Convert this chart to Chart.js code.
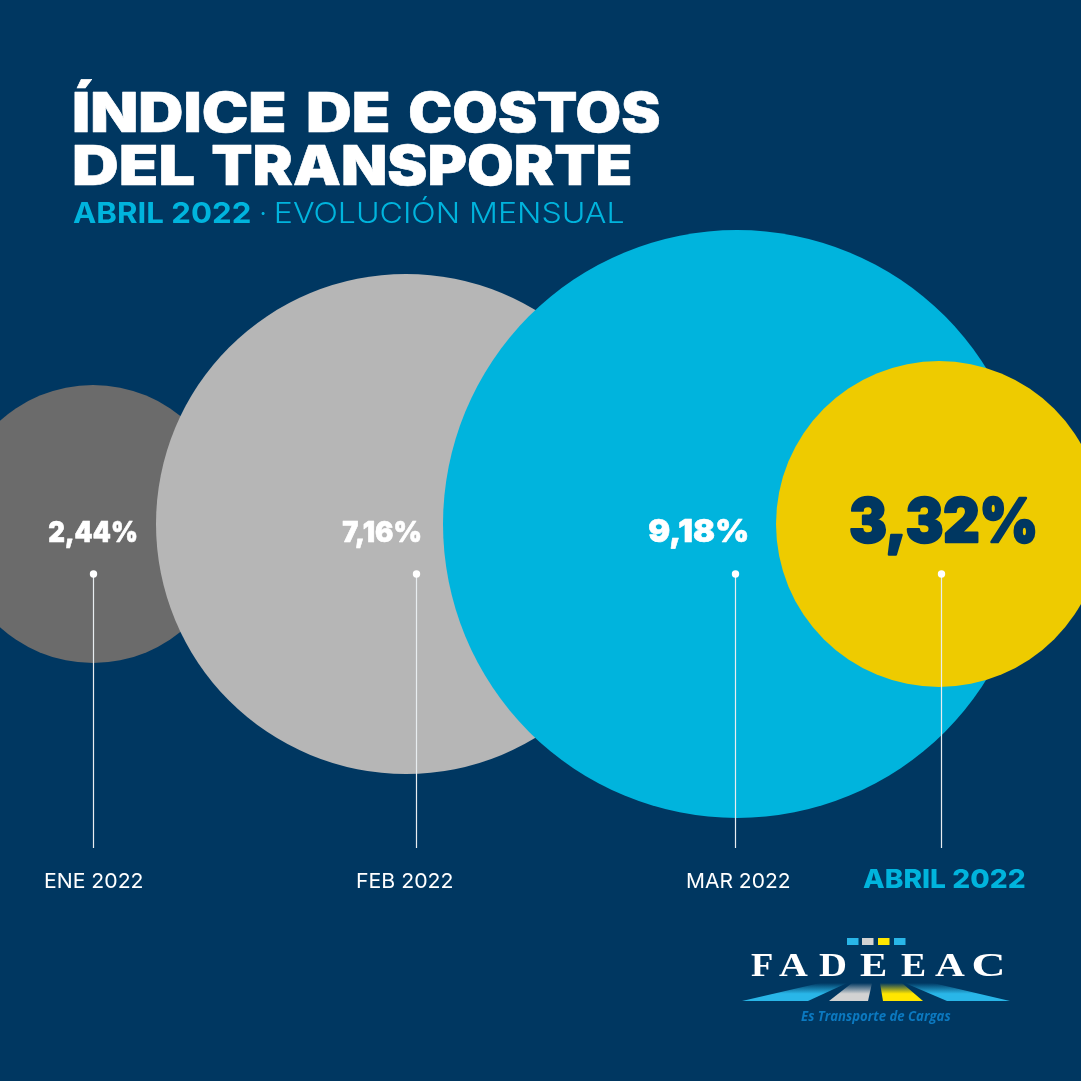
<!DOCTYPE html>
<html lang="es">
<head>
<meta charset="utf-8">
<title>Índice de Costos del Transporte</title>
<script src="https://cdn.jsdelivr.net/npm/chart.js@4"></script>
<style>
html,body{margin:0;padding:0;background:#003761;width:1081px;height:1081px;overflow:hidden}
canvas{display:block}
</style>
</head>
<body>
<canvas id="c" width="1081" height="1081" style="width:1081px;height:1081px"></canvas>
<script>
// ---- data ----
const months = ['ENE 2022', 'FEB 2022', 'MAR 2022', 'ABRIL 2022'];
const values = [2.44, 7.16, 9.18, 3.32];
const valueLabels = ['2,44%', '7,16%', '9,18%', '3,32%'];
const bubbleX = [93, 406, 737, 939];
const bubbleY = [524, 524, 524, 524];
const bubbleSize = [139, 250, 294, 163];
const stemX = [93.5, 416.5, 735.5, 941.5];
const stemTop = [574, 574, 574, 574];
const stemBottom = [848, 848, 848, 848];
const bubbleColors = ['#6b6b6b', '#b6b6b6', '#00b4dd', '#eecb00'];

const NAVY = '#003761', CYAN = '#00b4dd', WHITE = '#ffffff';

function fitText(ctx, text, left, right, baseline, font, color, stroke) {
  ctx.save();
  ctx.font = font;
  ctx.fillStyle = color;
  ctx.textAlign = 'left';
  ctx.textBaseline = 'alphabetic';
  const m = ctx.measureText(text);
  const w = m.actualBoundingBoxRight + m.actualBoundingBoxLeft;
  const inset = stroke ? stroke / 2 : 0;
  const sx = (right - left - 2 * inset) / w;
  ctx.translate(left + inset, baseline);
  ctx.scale(sx, 1);
  if (stroke) {
    ctx.strokeStyle = color;
    ctx.lineWidth = stroke;
    ctx.lineJoin = 'round';
    ctx.strokeText(text, m.actualBoundingBoxLeft, 0);
  }
  ctx.fillText(text, m.actualBoundingBoxLeft, 0);
  ctx.restore();
}
function poly(ctx, pts, fill) {
  ctx.beginPath();
  pts.forEach((p, i) => i ? ctx.lineTo(p[0], p[1]) : ctx.moveTo(p[0], p[1]));
  ctx.closePath();
  ctx.fillStyle = fill;
  ctx.fill();
}

const backdrop = {
  id: 'backdrop',
  beforeDraw(chart) {
    const { ctx, width, height } = chart;
    ctx.save();
    ctx.fillStyle = NAVY;
    ctx.fillRect(0, 0, width, height);
    ctx.restore();
  }
};

const valueBoxes = [[48, 137, 542, 28, 0.6], [342, 421, 542, 28, 0.6], [649, 748, 542, 32, 0.6], [850, 1036, 542, 60, 2.4]];
const monthBoxes = [[45, 143], [357, 453], [687, 790], [863, 1025]];
const logoLetters = [['F', 751, 772], ['A', 779, 808], ['D', 819, 846], ['E', 860, 886], ['E', 901, 925], ['A', 935, 965], ['C', 973, 1003]];

const overlay = {
  id: 'overlay',
  afterDraw(chart) {
    const { ctx } = chart;
    // heading
    const H1 = '900 55px Inter';
    fitText(ctx, 'ÍNDICE', 74, 285, 132, H1, WHITE, 0.6);
    fitText(ctx, 'DE', 308, 389, 132, H1, WHITE, 0.6);
    fitText(ctx, 'COSTOS', 409, 660, 132, H1, WHITE, 0.6);
    fitText(ctx, 'DEL', 74, 194, 185, H1, WHITE, 0.6);
    fitText(ctx, 'TRANSPORTE', 212, 631, 185, H1, WHITE, 0.6);
    fitText(ctx, 'ABRIL 2022', 73, 250, 223, '700 29px Inter', CYAN);
    fitText(ctx, '·', 261, 265, 223, '300 29px Inter', CYAN);
    fitText(ctx, 'EVOLUCIÓN MENSUAL', 276, 623, 223, '300 29px Inter', CYAN);
    // value labels
    valueLabels.forEach((t, i) => {
      const b = valueBoxes[i];
      fitText(ctx, t, b[0], b[1], b[2], `900 ${b[3]}px Inter`, i === 3 ? NAVY : WHITE, b[4]);
    });
    // month labels
    months.forEach((t, i) => {
      const b = monthBoxes[i];
      if (i === 3) fitText(ctx, t, b[0], b[1], 888, '800 26px Inter', CYAN);
      else fitText(ctx, t, b[0], b[1], 888, '400 20.5px Inter', WHITE);
    });
    // FADEEAC logo
    [[847, '#29b6e8'], [862, '#d2d2d2'], [878, '#ffe600'], [894, '#29b6e8']].forEach(s => {
      ctx.fillStyle = s[1];
      ctx.fillRect(s[0], 938, 11.5, 7);
    });
    logoLetters.forEach(l => fitText(ctx, l[0], l[1], l[2], 975.5, '700 33px "Liberation Serif"', WHITE));
    const ramp = c => {
      const g = ctx.createLinearGradient(0, 983, 0, 1001);
      g.addColorStop(0, NAVY);
      g.addColorStop(0.6, c);
      g.addColorStop(1, c);
      return g;
    };
    poly(ctx, [[742, 1001], [808, 1001], [847, 983], [820, 983]], ramp('#29b6e8'));
    poly(ctx, [[829, 1001], [868, 1001], [872, 983], [852, 983]], ramp('#d2d2d2'));
    poly(ctx, [[883, 1001], [923, 1001], [902, 983], [880, 983]], ramp('#ffe600'));
    poly(ctx, [[947, 1001], [1010, 1001], [933, 983], [905, 983]], ramp('#29b6e8'));
    fitText(ctx, 'Es Transporte de Cargas', 801, 951, 1021, 'italic 700 14px "Open Sans"', '#0b79c0');
  }
};

const stems = stemX.map((x, i) => ({
  type: 'line',
  order: 0,
  data: [{ x, y: stemTop[i] }, { x, y: stemBottom[i] }],
  borderColor: '#e8edf0',
  borderWidth: 1.2,
  pointRadius: [3.7, 0],
  pointBackgroundColor: WHITE,
  pointBorderWidth: 0,
  fill: false
}));

new Chart(document.getElementById('c'), {
  type: 'bubble',
  data: {
    labels: months,
    datasets: [
      {
        label: 'Índice de costos',
        order: 1,
        data: values.map((v, i) => ({ x: bubbleX[i], y: bubbleY[i], r: bubbleSize[i], v })),
        backgroundColor: bubbleColors,
        borderWidth: 0,
        hoverBorderWidth: 0
      },
      ...stems
    ]
  },
  options: {
    responsive: false,
    devicePixelRatio: 1,
    animation: false,
    events: [],
    layout: { padding: 0, autoPadding: false },
    plugins: { legend: { display: false }, tooltip: { enabled: false }, title: { display: false } },
    scales: {
      x: { type: 'linear', min: 0, max: 1081, display: false },
      y: { type: 'linear', min: 0, max: 1081, reverse: true, display: false }
    }
  },
  plugins: [backdrop, overlay]
});
</script>
</body>
</html>
